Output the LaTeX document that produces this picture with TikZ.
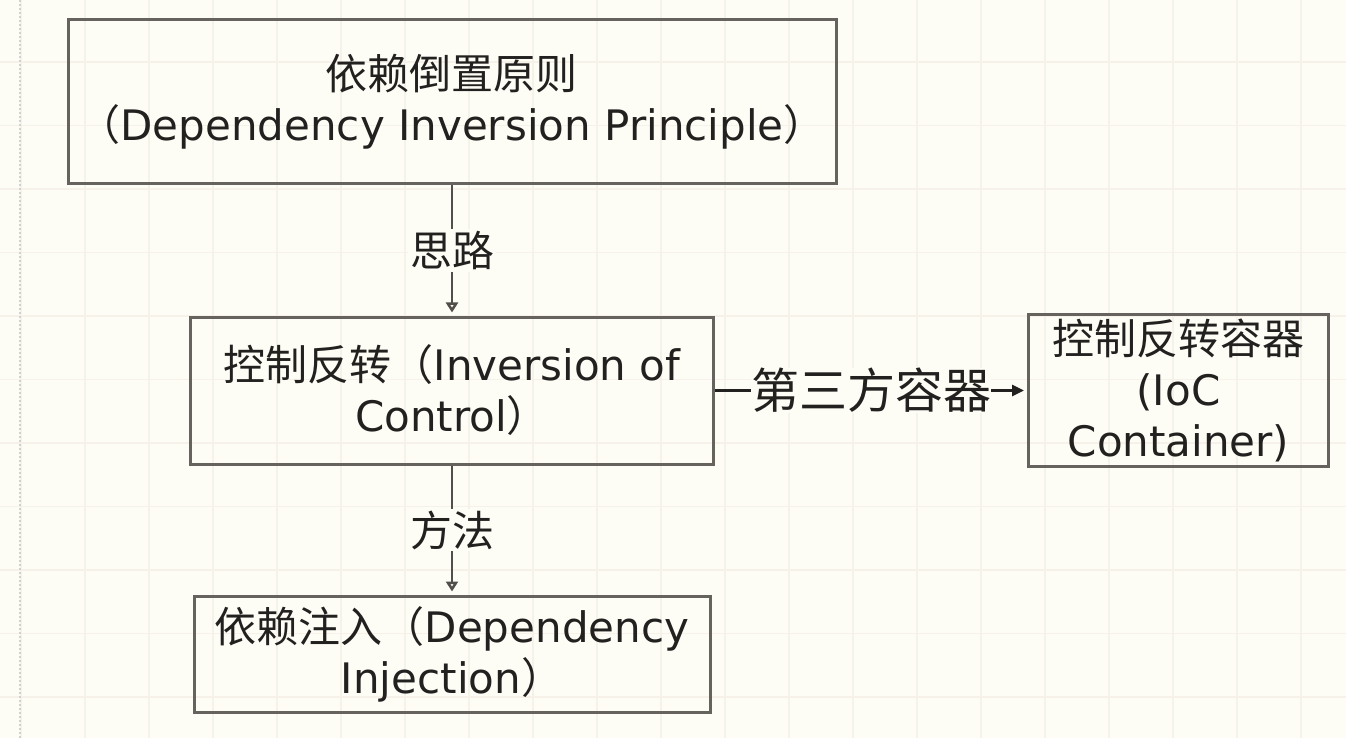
\documentclass[tikz,border=0pt]{standalone}
\usepackage{fontspec}
\setmainfont{DejaVu Sans}
\newfontfamily\cjk{Noto Sans CJK SC}
\usepackage{tikz}
\usetikzlibrary{arrows.meta,positioning}
\usepackage{xcolor}
\definecolor{papercolor}{HTML}{FEFDF5}
\definecolor{gridcolor}{HTML}{F6F1E9}
\definecolor{framecolor}{HTML}{66625E}
\definecolor{inkcolor}{HTML}{232120}

\begin{document}
\begin{tikzpicture}[
  x=0.5pt,y=-0.5pt,
  box/.style={draw=framecolor,line width=1.5pt,align=center,inner sep=2pt,text=inkcolor,font=\fontsize{21}{25.5}\selectfont},
  lbl/.style={fill=papercolor,inner sep=1pt,text=inkcolor,font=\cjk\fontsize{21}{25}\selectfont},
  arr/.style={draw=framecolor!80!black,line width=1.3pt,-{Triangle[open,length=5pt,width=6pt,fill=papercolor]},shorten >=1.5pt},
  solidarr/.style={draw=inkcolor,line width=1.4pt,-{Triangle[length=6pt,width=5.5pt]},shorten >=1.5pt}
]
\useasboundingbox[fill=papercolor] (0,0) rectangle (1346,738);
\foreach \gx in {21,85,...,1346} \draw[gridcolor,line width=0.6pt] (\gx,0) -- (\gx,738);
\foreach \gy in {62,125.5,...,738} \draw[gridcolor,line width=0.6pt] (0,\gy) -- (1346,\gy);
\draw[black!18,densely dotted,line width=1pt] (20,0) -- (20,738);

\node[box,minimum width=384pt,minimum height=82pt] (dip) at (452,102)
  {{\cjk 依赖倒置原则}\\{\cjk （}Dependency Inversion Principle{\cjk ）}};
\node[box,below=65pt of dip,minimum width=261.5pt,minimum height=73.5pt] (ioc)
  {{\cjk 控制反转（}Inversion of\\Control{\cjk ）}};
\node[box,below=64.5pt of ioc,minimum width=258pt,minimum height=58pt] (di)
  {{\cjk 依赖注入（}Dependency\\Injection{\cjk ）}};
\node[box,right=156pt of ioc,minimum width=150pt,minimum height=74pt] (container)
  {{\cjk 控制反转容器}\\(IoC\\Container)};

\draw[arr] (dip) -- node[lbl]{思路} (ioc);
\draw[arr] (ioc) -- node[lbl]{方法} (di);
\draw[solidarr] (ioc) -- node[lbl,inner sep=0pt,font=\cjk\fontsize{24}{28}\selectfont]{第三方容器} (container);
\end{tikzpicture}
\end{document}
